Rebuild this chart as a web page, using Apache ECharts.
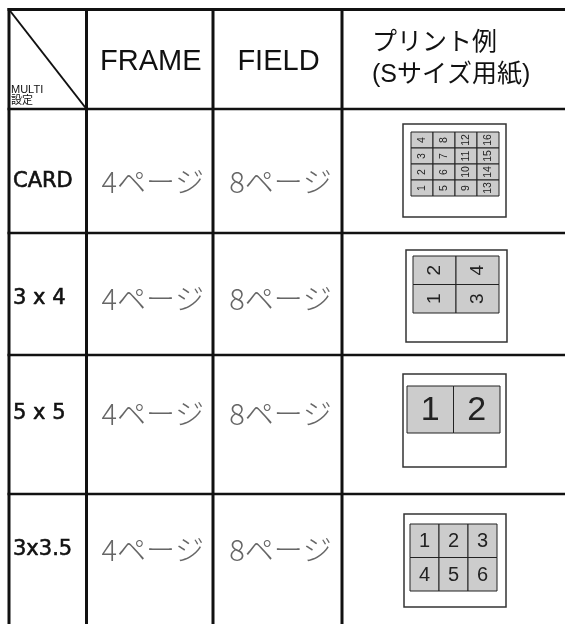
<!DOCTYPE html>
<html><head><meta charset="utf-8">
<script src="https://cdn.jsdelivr.net/npm/echarts@6/dist/echarts.min.js"></script>
<style>html,body{margin:0;padding:0;background:#fff}#c{width:565px;height:624px}</style>
</head><body><div id="c"></div>
<script>
// ---- data ----
const cornerLabel = ['MULTI', '設定'];
const columnHeaders = ['FRAME', 'FIELD', 'プリント例\n(Sサイズ用紙)'];
const rowCategories = ['CARD', '3 x 4', '5 x 5', '3x3.5'];
const framePages = ['4ページ', '4ページ', '4ページ', '4ページ'];
const fieldPages = ['8ページ', '8ページ', '8ページ', '8ページ'];
const printGridCols = [4, 2, 2, 3];
const printGridRows = [4, 2, 1, 2];
const printLabels = [
  [[4, 8, 12, 16], [3, 7, 11, 15], [2, 6, 10, 14], [1, 5, 9, 13]],
  [[2, 4], [1, 3]],
  [[1, 2]],
  [[1, 2, 3], [4, 5, 6]]
];

// ---- layout (not data) ----
const colEdges = [9, 86.5, 213, 342, 565];
const rowEdges = [9.5, 109, 233, 355, 494, 624];
const rowTextY = [73, 66, 59, 56];   // text centre offset from row top
const thumbBox = [ // left offset from column, top offset from row, width, height
  [61, 15, 103, 93], [64, 17, 101, 92], [61, 19, 103, 93], [62, 20, 102, 93]
];
const thumbInner = [ // offset inside box x, y, width, height
  [8, 8, 88, 64], [7, 6, 86, 57], [4, 12, 93, 47], [6, 10, 87, 67]
];
const thumbFont = [10.5, 19, 34, 20];
const thumbRotate = [true, true, false, false];

const cells = [];
for (let r = 0; r <= rowCategories.length; r++)
  for (let c = 0; c < 4; c++) cells.push([c, r]);

// line items: [kind (0 vertical, 1 horizontal, 2 diagonal), index]
const lineItems = [];
for (let c = 0; c < 4; c++) lineItems.push([0, c]);
for (let r = 0; r < 5; r++) lineItems.push([1, r]);
lineItems.push([2, 0]);

const latin = '"Liberation Sans", Arial, "Noto Sans CJK JP", sans-serif';
const label = '"DejaVu Sans", "Liberation Sans", sans-serif';
const jp = '"Noto Sans CJK JP", sans-serif';

function renderLine(params, api) {
  const kind = api.value(0), i = api.value(1);
  let a, b, w = 3;
  if (kind === 0) {
    a = api.coord([colEdges[i], rowEdges[0] - 1.5]);
    b = api.coord([colEdges[i], 624]);
  } else if (kind === 1) {
    a = api.coord([colEdges[0] - 1.5, rowEdges[i]]);
    b = api.coord([565, rowEdges[i]]);
    w = i === 0 ? 3 : 2.5;
  } else {
    a = api.coord([colEdges[0], rowEdges[0]]);
    b = api.coord([colEdges[1], rowEdges[1]]);
    w = 2;
  }
  return { type: 'line', shape: { x1: a[0], y1: a[1], x2: b[0], y2: b[1] },
           style: { stroke: '#111', lineWidth: w } };
}

function renderCell(params, api) {
  const c = api.value(0), r = api.value(1);
  const p0 = api.coord([colEdges[c], rowEdges[r]]);
  const p1 = api.coord([colEdges[c + 1], rowEdges[r + 1]]);
  const cx = (p0[0] + p1[0]) / 2, cy = (p0[1] + p1[1]) / 2;
  const children = [];
  if (r === 0) {
    if (c === 0) {
      children.push({ type: 'text', x: p0[0] + 2, y: p1[1] - 3,
        style: { text: cornerLabel.join('\n'), fill: '#111', fontSize: 11, lineHeight: 11,
                 fontFamily: latin, align: 'left', verticalAlign: 'bottom' } });
    } else if (c < 3) {
      children.push({ type: 'text', x: cx + 1, y: cy + 3,
        style: { text: columnHeaders[c - 1], fill: '#111', fontSize: 29, fontFamily: latin,
                 align: 'center', verticalAlign: 'middle' } });
    } else {
      children.push({ type: 'text', x: p0[0] + 30, y: cy,
        style: { text: columnHeaders[2], fill: '#111', fontSize: 25, lineHeight: 32,
                 fontFamily: latin, align: 'left', verticalAlign: 'middle' } });
    }
  } else {
    const k = r - 1;
    const ty = p0[1] + rowTextY[k];
    if (c === 0) {
      children.push({ type: 'text', x: p0[0] + 4, y: ty,
        style: { text: rowCategories[k], fill: '#111', fontSize: 21, fontFamily: label,
                 stroke: '#111', lineWidth: 0.6,
                 align: 'left', verticalAlign: 'middle' } });
    } else if (c === 1 || c === 2) {
      children.push({ type: 'text', x: cx + 3, y: ty,
        style: { text: (c === 1 ? framePages : fieldPages)[k], fill: '#666', fontSize: 29,
                 fontFamily: jp, fontWeight: 300, align: 'center', verticalAlign: 'middle' } });
    } else {
      const bx = thumbBox[k], ib = thumbInner[k];
      const bl = p0[0] + bx[0], bt = p0[1] + bx[1];
      children.push({ type: 'rect', shape: { x: bl, y: bt, width: bx[2], height: bx[3] },
        style: { fill: '#fff', stroke: '#333', lineWidth: 1.5 } });
      const nc = printGridCols[k], nr = printGridRows[k];
      const gw = ib[2] / nc, gh = ib[3] / nr;
      for (let i = 0; i < nr; i++) for (let j = 0; j < nc; j++) {
        const x = bl + ib[0] + j * gw, y = bt + ib[1] + i * gh;
        children.push({ type: 'rect', shape: { x, y, width: gw, height: gh },
          style: { fill: '#cccccc', stroke: '#222', lineWidth: 1 } });
        children.push({ type: 'text', x: x + gw / 2, y: y + gh / 2 + (thumbRotate[k] ? 0 : 1),
          rotation: thumbRotate[k] ? Math.PI / 2 : 0,
          style: { text: String(printLabels[k][i][j]), fill: '#222', fontSize: thumbFont[k],
                   fontFamily: latin, align: 'center', verticalAlign: 'middle' } });
      }
    }
  }
  return { type: 'group', children };
}

const chart = echarts.init(document.getElementById('c'), null, { renderer: 'canvas' });
chart.setOption({
  animation: false,
  grid: { left: 0, right: 0, top: 0, bottom: 0 },
  xAxis: { type: 'value', min: 0, max: 565, show: false },
  yAxis: { type: 'value', min: 0, max: 624, inverse: true, show: false },
  series: [
    { type: 'custom', renderItem: renderCell, data: cells, clip: false, silent: true },
    { type: 'custom', renderItem: renderLine, data: lineItems, clip: false, silent: true }
  ]
});
</script></body></html>
